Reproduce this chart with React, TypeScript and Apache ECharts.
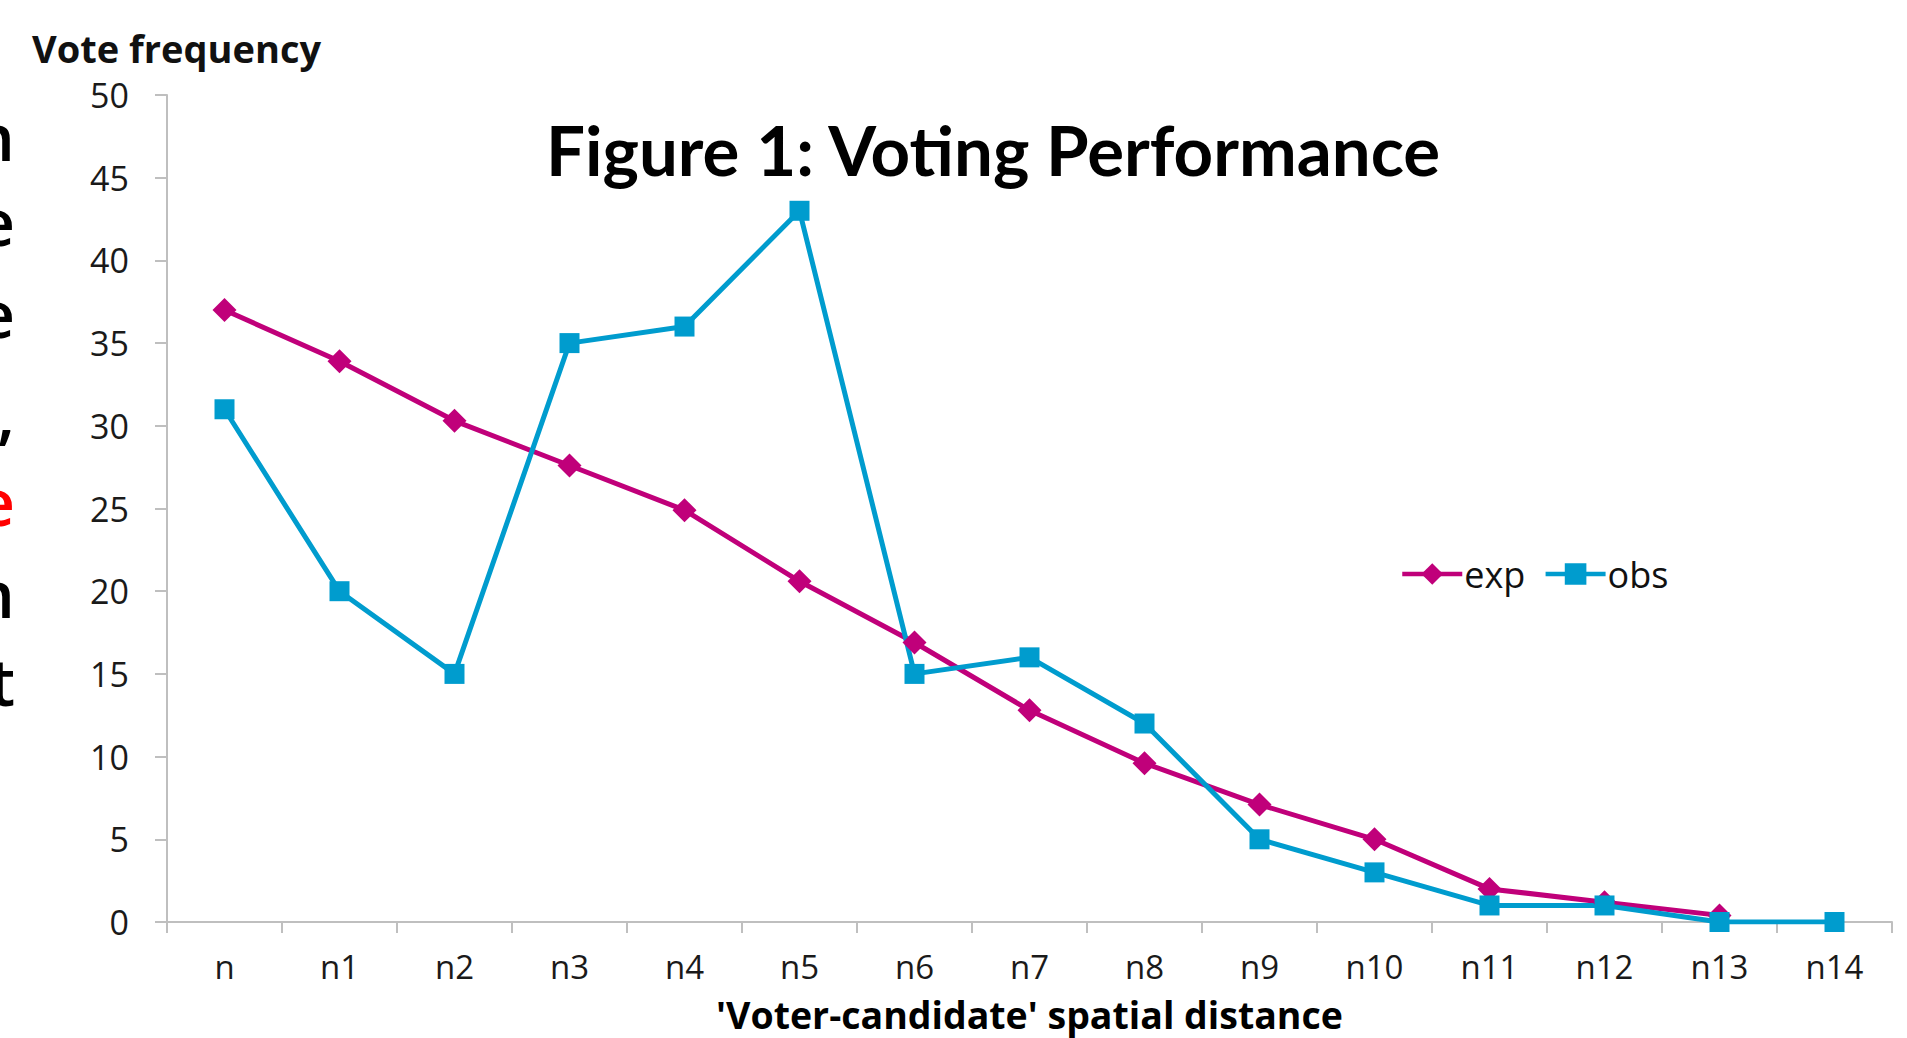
import React, { useEffect, useRef } from "react";
import * as echarts from "echarts";

const categories = ["n", "n1", "n2", "n3", "n4", "n5", "n6", "n7", "n8", "n9", "n10", "n11", "n12", "n13", "n14"];
const expValues: (number | null)[] = [37, 33.9, 30.3, 27.6, 24.9, 20.6, 16.9, 12.8, 9.6, 7.1, 5.0, 2.0, 1.2, 0.4, null];
const obsValues: number[] = [31, 20, 15, 35, 36, 43, 15, 16, 12, 5, 3, 1, 1, 0, 0];
const seriesNames = ["exp", "obs"];
const titleText = "Figure 1: Voting Performance";
const yAxisTitle = "Vote frequency";
const xAxisTitle = "'Voter-candidate' spatial distance";
const edgeLetters = ["n", "e", "e", ",", "e", "n", "t"];
const edgeColors = ["#000", "#000", "#000", "#000", "#ff0000", "#000", "#000"];

const EXP_COLOR = "#C0007A";
const OBS_COLOR = "#009CCE";
const AXIS_COLOR = "#BFBFBF";

export default function App() {
  const ref = useRef<HTMLDivElement>(null);
  useEffect(() => {
    document.body.style.margin = "0";
    if (!ref.current) return;
    const chart = echarts.init(ref.current, undefined, { renderer: "svg" });
    const edgeCenters = [135, 220, 312, 412, 500, 592, 680];
    const option: any = {
      animation: false,
      backgroundColor: "#ffffff",
      grid: { left: 167, right: 15, top: 95, bottom: 109, containLabel: false },
      legend: {
        data: seriesNames,
        left: 1395,
        top: 551,
        itemWidth: 60,
        itemHeight: 27,
        itemGap: 18,
        lineStyle: { width: 4.5 },
        textStyle: { fontFamily: "Open Sans", fontSize: 36, color: "#111", padding: [0, 0, 0, -3] },
      },
      xAxis: {
        type: "category",
        data: categories,
        boundaryGap: true,
        axisLine: { show: true, lineStyle: { color: AXIS_COLOR, width: 2 } },
        axisTick: { show: true, length: 11, lineStyle: { color: AXIS_COLOR, width: 2 } },
        axisLabel: { fontFamily: "Open Sans", fontSize: 33, color: "#1a1a1a", margin: 28 },
        name: xAxisTitle,
        nameLocation: "middle",
        nameGap: 73,
        nameTextStyle: { fontFamily: "Open Sans", fontWeight: "bold", fontSize: 37.5, color: "#000" },
        splitLine: { show: false },
      },
      yAxis: {
        type: "value",
        min: 0,
        max: 50,
        interval: 5,
        axisLine: { show: true, lineStyle: { color: AXIS_COLOR, width: 2 } },
        axisTick: { show: true, length: 12, lineStyle: { color: AXIS_COLOR, width: 2 } },
        axisLabel: { fontFamily: "Open Sans", fontSize: 34, color: "#1a1a1a", margin: 38 },
        splitLine: { show: false },
      },
      graphic: [
        {
          type: "text",
          left: 546,
          top: 115,
          style: { text: titleText, fontFamily: "Lato", fontWeight: "bold", fontSize: 69, fill: "#000" },
        },
        {
          type: "text",
          left: 32,
          top: 29,
          style: { text: yAxisTitle, fontFamily: "Open Sans", fontWeight: "bold", fontSize: 38, fill: "#111" },
        },
        ...edgeLetters.map((ch, i) => ({
          type: "text",
          x: 15,
          y: edgeCenters[i],
          style: {
            text: ch,
            fontFamily: "Open Sans",
            fontWeight: 600,
            fontSize: 66,
            fill: edgeColors[i],
            align: "right",
            verticalAlign: "middle",
          },
        })),
      ],
      series: [
        {
          name: seriesNames[0],
          type: "line",
          data: expValues,
          symbol: "diamond",
          symbolSize: 24,
          lineStyle: { color: EXP_COLOR, width: 5 },
          itemStyle: { color: EXP_COLOR },
          connectNulls: false,
        },
        {
          name: seriesNames[1],
          type: "line",
          data: obsValues,
          symbol: "rect",
          symbolSize: 20,
          lineStyle: { color: OBS_COLOR, width: 5 },
          itemStyle: { color: OBS_COLOR },
        },
      ],
    };
    chart.setOption(option);
    return () => chart.dispose();
  }, []);
  return <div ref={ref} style={{ width: 1907, height: 1038 }} />;
}
